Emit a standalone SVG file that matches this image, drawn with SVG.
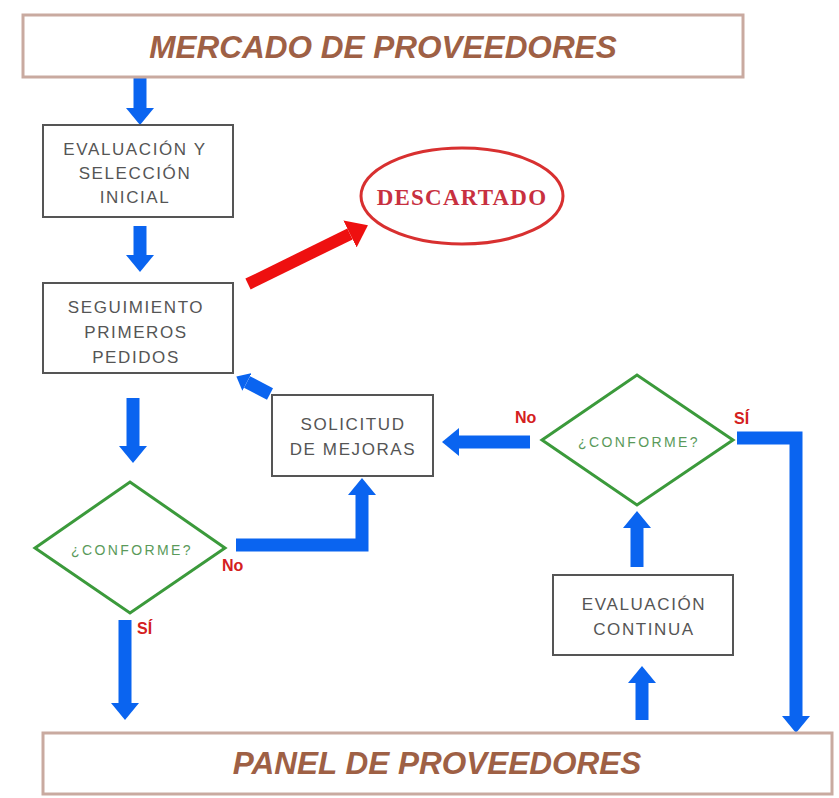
<svg xmlns="http://www.w3.org/2000/svg" width="839" height="798" viewBox="0 0 839 798">
<defs>
<style>
.band{fill:#fff;stroke:#c9aaa0;stroke-width:3}
.bandt{font-family:"Liberation Sans",Arial,sans-serif;font-style:italic;font-weight:bold;font-size:31.5px;fill:#9e6045;text-anchor:middle}
.box{fill:#fff;stroke:#555;stroke-width:2}
.bt{font-family:"Liberation Sans",Arial,sans-serif;font-size:17px;letter-spacing:1.6px;fill:#555;text-anchor:middle}
.dia{fill:#fff;stroke:#3b9a3b;stroke-width:3}
.dt{font-family:"Liberation Sans",Arial,sans-serif;font-size:14px;letter-spacing:2.4px;fill:#5a9a5a;text-anchor:middle}
.lab{font-family:"Liberation Sans",Arial,sans-serif;font-weight:bold;font-size:16px;fill:#d42020}
.blue{fill:none;stroke:#0a64f0;stroke-width:13}
.red{fill:none;stroke:#ee1010;stroke-width:12}
</style>
<marker id="hb" markerUnits="userSpaceOnUse" markerWidth="18" markerHeight="28" viewBox="0 0 18 28" refX="0" refY="14" orient="auto"><path d="M0,0 L17,14 L0,28 z" fill="#0a64f0"/></marker>
<marker id="hs" markerUnits="userSpaceOnUse" markerWidth="12" markerHeight="20" viewBox="0 0 12 20" refX="0" refY="10" orient="auto"><path d="M0,0 L12,10 L0,20 z" fill="#0a64f0"/></marker>
<marker id="hr" markerUnits="userSpaceOnUse" markerWidth="20" markerHeight="30" viewBox="0 0 20 30" refX="0" refY="15" orient="auto"><path d="M0,0 L20,15 L0,30 z" fill="#ee1010"/></marker>
</defs>
<rect width="839" height="798" fill="#fff"/>
<g id="connectors">
<path class="blue" d="M140,77 V108" marker-end="url(#hb)"/>
<path class="blue" d="M140,226 V255" marker-end="url(#hb)"/>
<path class="blue" d="M133,398 V446" marker-end="url(#hb)"/>
<path class="blue" d="M125,620 V703" marker-end="url(#hb)"/>
<path class="blue" d="M236,545 H362 V495" marker-end="url(#hb)"/>
<path class="blue" d="M270,394 L247,382" stroke-width="10" marker-end="url(#hs)"/>
<path class="red" d="M248,284 L350,234" marker-end="url(#hr)"/>
<path class="blue" d="M530,442 H459" marker-end="url(#hb)"/>
<path class="blue" d="M737,438 H796 V716" marker-end="url(#hb)"/>
<path class="blue" d="M642,720 V683" marker-end="url(#hb)"/>
<path class="blue" d="M637,567 V528" marker-end="url(#hb)"/>
</g>
<g id="mercado">
<rect class="band" x="23" y="15" width="720" height="62"/>
<text class="bandt" x="383" y="58">MERCADO DE PROVEEDORES</text>
</g>
<g id="panel">
<rect class="band" x="43" y="733" width="789" height="61"/>
<text class="bandt" x="437" y="774">PANEL DE PROVEEDORES</text>
</g>
<g id="evaluacion">
<rect class="box" x="43" y="125" width="190" height="92"/>
<text class="bt" x="135" y="155">EVALUACIÓN Y</text>
<text class="bt" x="135" y="179">SELECCIÓN</text>
<text class="bt" x="135" y="203">INICIAL</text>
</g>
<g id="seguimiento">
<rect class="box" x="43" y="283" width="190" height="90"/>
<text class="bt" x="136" y="313">SEGUIMIENTO</text>
<text class="bt" x="136" y="338">PRIMEROS</text>
<text class="bt" x="136" y="363">PEDIDOS</text>
</g>
<g id="descartado">
<ellipse cx="462" cy="196" rx="101" ry="48" fill="#fff" stroke="#d83030" stroke-width="3"/>
<text x="462" y="205" font-family="Liberation Serif,serif" font-weight="bold" font-size="23" letter-spacing="1.2" fill="#c83040" text-anchor="middle">DESCARTADO</text>
</g>
<g id="solicitud">
<rect class="box" x="272" y="395" width="161" height="81"/>
<text class="bt" x="353" y="430">SOLICITUD</text>
<text class="bt" x="353" y="455">DE MEJORAS</text>
</g>
<g id="conforme1">
<polygon class="dia" points="35,548 130,482 225,548 130,613"/>
<text class="dt" x="132" y="555">¿CONFORME?</text>
<text class="lab" x="222" y="571">No</text>
<text class="lab" x="137" y="634">SÍ</text>
</g>
<g id="conforme2">
<polygon class="dia" points="542,440 637,375 733,440 637,505"/>
<text class="dt" x="639" y="447">¿CONFORME?</text>
<text class="lab" x="515" y="423">No</text>
<text class="lab" x="734" y="424">SÍ</text>
</g>
<g id="continua">
<rect class="box" x="553" y="575" width="180" height="80"/>
<text class="bt" x="644" y="610">EVALUACIÓN</text>
<text class="bt" x="644" y="635">CONTINUA</text>
</g>
</svg>
